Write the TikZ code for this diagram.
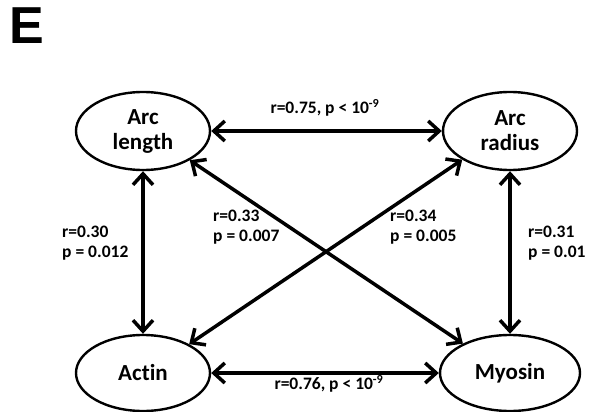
\documentclass[tikz,border=0pt]{standalone}
\usepackage{fontspec}
\setmainfont{Carlito}[Ligatures={NoCommon}]
\newfontfamily\headfont{Liberation Sans}
\usetikzlibrary{shapes.geometric,arrows.meta}
\begin{document}
\begin{tikzpicture}[x=1pt,y=-1pt,
  ell/.style={ellipse,draw,line width=2.4pt,inner sep=0pt,minimum width=134pt,minimum height=78pt,
    align=center,font=\bfseries\fontsize{23}{25}\selectfont},
  conn/.style={line width=3.5pt,{Straight Barb[length=11pt,width=20pt]}-{Straight Barb[length=11pt,width=20pt]}},
  lab/.style={inner sep=0pt,align=left,font=\bfseries\fontsize{17.5}{20.5}\selectfont},
]
\useasboundingbox (0,0) rectangle (592,412);
\node[anchor=north west,inner sep=0pt,font=\headfont\bfseries\fontsize{52}{52}\selectfont] (E) at (9,8) {E};
\node[ell] (al) at (143,131) {Arc\\length};
\node[ell] (ar) at (510,131) {Arc\\radius};
\node[ell,minimum height=76pt] (ac) at (143,373) {Actin};
\node[ell,minimum height=76pt,minimum width=140pt] (my) at (510,373) {Myosin};
\draw[conn] (al) -- (ar);
\draw[conn] (ac) -- (my);
\draw[conn] (al.south) -- (ac.north);
\draw[conn] (ar.south) -- (my.north);
\draw[conn] (al.-32) -- (my.148);
\draw[conn] (ar.-149) -- (ac.32);
\node[lab] (t1) at (325,108) {r=0.75, p < 10\textsuperscript{-9}};
\node[lab] (t2) at (329,384) {r=0.76, p < 10\textsuperscript{-9}};
\node[lab,anchor=west] (t3) at (62,243) {r=0.30\\p = 0.012};
\node[lab,anchor=west] (t4) at (528,243) {r=0.31\\p = 0.01};
\node[lab,anchor=west] (t5) at (213,227) {r=0.33\\p = 0.007};
\node[lab,anchor=west] (t6) at (390,227) {r=0.34\\p = 0.005};
\end{tikzpicture}
\end{document}
